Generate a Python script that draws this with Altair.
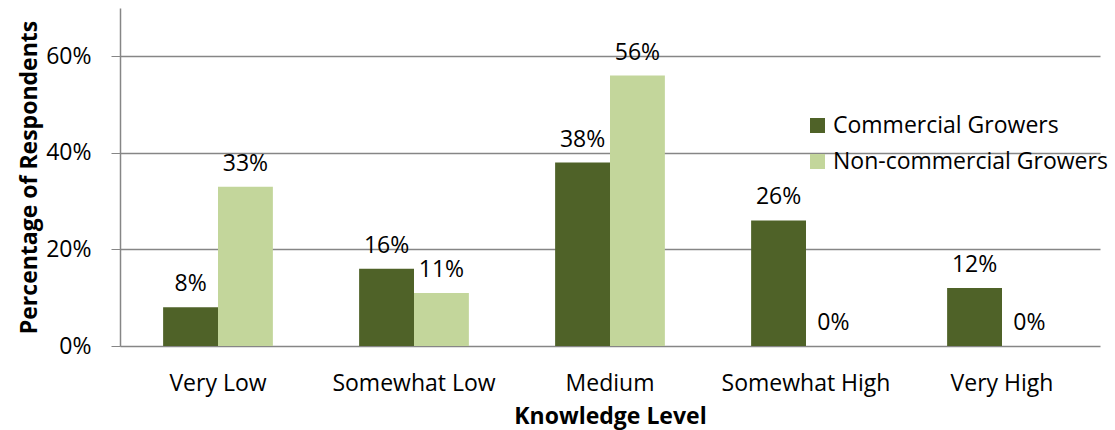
import altair as alt
import pandas as pd

levels = ["Very Low", "Somewhat Low", "Medium", "Somewhat High", "Very High"]
groups = ["Commercial Growers", "Non-commercial Growers"]
commercial = [8, 16, 38, 26, 12]
non_commercial = [33, 11, 56, 0, 0]
colors = ["#4F6228", "#C3D69B"]

rows = []
for lvl, c, n in zip(levels, commercial, non_commercial):
    rows.append({"level": lvl, "group": groups[0], "pct": c / 100})
    rows.append({"level": lvl, "group": groups[1], "pct": n / 100})
df = pd.DataFrame(rows)

FONT = "Open Sans"
FS = 23

x = alt.X(
    "level:N",
    sort=levels,
    scale=alt.Scale(paddingInner=0.44, paddingOuter=0.22),
    axis=alt.Axis(
        title="Knowledge Level",
        labelAngle=0,
        labelFontSize=FS,
        labelColor="#000000",
        labelPadding=26,
        ticks=False,
        domain=False,
        titleFontSize=FS,
        titleFontWeight="bold",
        titleColor="#000000",
        titlePadding=10,
    ),
)
y = alt.Y(
    "pct:Q",
    scale=alt.Scale(domain=[0, 0.7], nice=False),
    axis=alt.Axis(
        title="Percentage of Respondents",
        format=".0%",
        values=[0, 0.2, 0.4, 0.6],
        labelFontSize=FS,
        labelColor="#000000",
        labelPadding=20,
        tickSize=9,
        tickColor="#868686",
        grid=True,
        gridColor="#868686",
        gridWidth=1.5,
        domainColor="#868686",
        domainWidth=1.5,
        titleFontSize=FS,
        titleFontWeight="bold",
        titleColor="#000000",
        titlePadding=4,
    ),
)

bars = alt.Chart(df).mark_bar().encode(
    x=x,
    xOffset=alt.XOffset("group:N", sort=groups),
    y=y,
    color=alt.Color(
        "group:N",
        sort=groups,
        scale=alt.Scale(domain=groups, range=colors),
        legend=alt.Legend(
            title=None,
            orient="none",
            legendX=686,
            legendY=106,
            symbolType="square",
            symbolSize=225,
            symbolStrokeWidth=0,
            labelFontSize=FS,
            labelColor="#000000",
            labelLimit=0,
            rowPadding=12,
            labelOffset=4,
        ),
    ),
)

labels = alt.Chart(df).mark_text(
    fontSize=FS, color="#000000", baseline="alphabetic", dy=-16, font=FONT
).encode(
    x=alt.X("level:N", sort=levels),
    xOffset=alt.XOffset("group:N", sort=groups),
    y="pct:Q",
    text=alt.Text("pct:Q", format=".0%"),
)

chart = (
    alt.layer(bars, labels)
    .properties(
        width=980,
        height=338,
        autosize=alt.AutoSizeParams(type="none"),
        padding={"left": 120, "top": 8, "right": 15, "bottom": 84},
    )
    .configure(font=FONT)
    .configure_view(stroke=None)
    .configure_axis(labelFont=FONT, titleFont=FONT)
    .configure_legend(labelFont=FONT)
)

chart.save("out.html", embed_options={"renderer": "svg", "actions": False})
